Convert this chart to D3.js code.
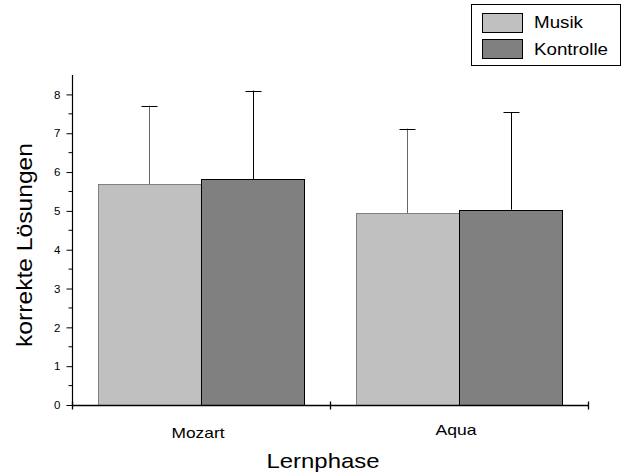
<!DOCTYPE html>
<html>
<head>
<meta charset="utf-8">
<script src="https://cdn.jsdelivr.net/npm/d3@7"></script>
<style>
  body { margin: 0; background: #fff; }
  svg { font-family: "Liberation Sans", Arial, sans-serif; }
</style>
</head>
<body>
<svg id="chart" width="626" height="475"></svg>
<script>
// data
const phases = ["Mozart", "Aqua"];
const groups = ["Musik", "Kontrolle"];
const means = { Musik: [5.69, 4.94], Kontrolle: [5.82, 5.03] };
const errTop = { Musik: [7.71, 7.12], Kontrolle: [8.1, 7.54] };
const yTicks = [0, 1, 2, 3, 4, 5, 6, 7, 8];
const fills = { Musik: "#c0c0c0", Kontrolle: "#808080" };
const strokes = { Musik: "#808080", Kontrolle: "#000" };

const svg = d3.select("#chart");
const m = { left: 72, right: 588, top: 75, bottom: 405 };

const x = d3.scaleBand().domain(phases).range([m.left, m.right]).paddingInner(0).paddingOuter(0);
const xg = d3.scaleBand().domain(groups).range([0, x.bandwidth()]).paddingOuter(0.25).paddingInner(0);
const y = d3.scaleLinear().domain([0, 8.5]).range([m.bottom, m.top]);

// bars
phases.forEach(function(p, i) {
  groups.forEach(function(g) {
    const bx = x(p) + xg(g);
    const cx = Math.round(bx + xg.bandwidth() / 2) + 0.5;
    // error bar
    svg.append("line")
      .attr("x1", cx).attr("x2", cx)
      .attr("y1", y(means[g][i])).attr("y2", y(errTop[g][i]))
      .attr("stroke", g == "Musik" ? "#666" : "#000")
      .attr("stroke-width", 1);
    svg.append("line")
      .attr("x1", cx - 8).attr("x2", cx + 8)
      .attr("y1", Math.round(y(errTop[g][i])) + 0.5).attr("y2", Math.round(y(errTop[g][i])) + 0.5)
      .attr("stroke", "#000").attr("stroke-width", 1);
    svg.append("rect")
      .attr("x", Math.round(bx) + 0.5)
      .attr("y", Math.round(y(means[g][i])) + 0.5)
      .attr("width", Math.round(xg.bandwidth()))
      .attr("height", Math.round(y(0) - y(means[g][i])))
      .attr("fill", fills[g])
      .attr("stroke", strokes[g])
      .attr("stroke-width", 1);
  });
});

// y axis
const yAxis = svg.append("g").attr("transform", "translate(" + (m.left + 0.5) + ",0)");
yAxis.call(d3.axisLeft(y).tickValues(yTicks).tickSize(6).tickPadding(6).tickSizeOuter(0))
  .selectAll("text").attr("font-size", 11.5).attr("fill", "#000");
yAxis.selectAll(".minor").data(d3.range(0.5, 8.5, 1)).enter().append("line")
  .attr("class", "minor")
  .attr("x1", -4).attr("x2", 0)
  .attr("y1", d => y(d)).attr("y2", d => y(d))
  .attr("stroke", "#000");
yAxis.select(".domain").attr("d", "M0," + m.top + "V" + m.bottom).attr("stroke-width", 1.2);

// x axis
const xAxis = svg.append("g").attr("transform", "translate(0," + (m.bottom + 0.5) + ")");
xAxis.append("line").attr("x1", m.left).attr("x2", m.right).attr("stroke", "#000").attr("stroke-width", 1.5);
xAxis.selectAll(".xt").data([m.left, m.left + x.bandwidth(), m.right]).enter().append("line")
  .attr("x1", d => d + 0.5).attr("x2", d => d + 0.5).attr("y1", -4).attr("y2", 4)
  .attr("stroke", "#000").attr("stroke-width", 1.3);
const xLen = [53, 41];
xAxis.selectAll(".xl").data(phases).enter().append("text")
  .attr("x", d => x(d) + x.bandwidth() / 2 - 3)
  .attr("y", (d, i) => i == 0 ? 32 : 29)
  .attr("text-anchor", "middle")
  .attr("font-size", 14.5)
  .attr("textLength", (d, i) => xLen[i])
  .attr("lengthAdjust", "spacingAndGlyphs")
  .text(d => d);

// axis titles
svg.append("text")
  .attr("x", 323).attr("y", 468)
  .attr("text-anchor", "middle").attr("font-size", 21)
  .attr("textLength", 113).attr("lengthAdjust", "spacingAndGlyphs")
  .text("Lernphase");
svg.append("text")
  .attr("transform", "translate(32,245) rotate(-90)")
  .attr("text-anchor", "middle").attr("font-size", 21.5)
  .attr("textLength", 204).attr("lengthAdjust", "spacingAndGlyphs")
  .text("korrekte Lösungen");

// legend
const legend = svg.append("g");
legend.append("rect").attr("x", 471.5).attr("y", 4.5).attr("width", 149).attr("height", 61)
  .attr("fill", "#fff").attr("stroke", "#000");
const legLen = [49, 74];
groups.forEach(function(g, i) {
  legend.append("rect").attr("x", 482.5).attr("y", 13.5 + i * 26).attr("width", 40).attr("height", 19)
    .attr("fill", fills[g]).attr("stroke", "#000");
  legend.append("text").attr("x", 534).attr("y", 28 + i * 27)
    .attr("font-size", 16.5)
    .attr("textLength", legLen[i]).attr("lengthAdjust", "spacingAndGlyphs")
    .text(g);
});
</script>
</body>
</html>
